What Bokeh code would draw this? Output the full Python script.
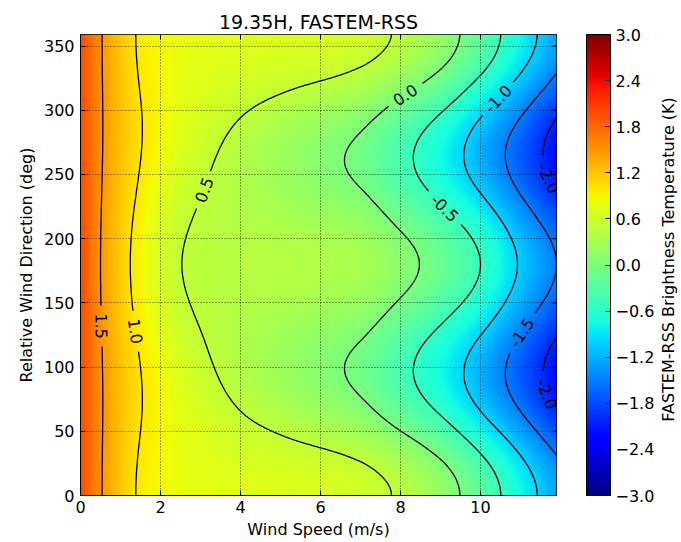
import numpy as np
import contourpy
from bokeh.plotting import figure
from bokeh.layouts import row
from bokeh.models import (LinearColorMapper, ColorBar, FixedTicker,
                          CustomJSTickFormatter, Range1d)
from bokeh.core.properties import value
from bokeh.embed import file_html
from bokeh.resources import INLINE

# ---------------- data ----------------
title_text = "19.35H, FASTEM-RSS"
x_label = "Wind Speed (m/s)"
y_label = "Relative Wind Direction (deg)"
cbar_label = "FASTEM-RSS Brightness Temperature (K)"

wind_speed = [0.0, 0.5, 1.0, 1.5, 2.0, 2.5, 3.0, 4.0, 5.0, 6.0, 7.0, 8.0, 9.0, 10.0, 11.0, 11.9]
# brightness temperature along wind direction 0 deg, 90 deg and 180 deg
tb_dir_0 = [1.98, 1.53, 1.19, 0.96, 0.86, 0.80, 0.77, 0.73, 0.71, 0.69, 0.62, 0.455, 0.19, -0.24, -0.77, -1.27]
tb_dir_90 = [1.98, 1.54, 1.22, 1.01, 0.85, 0.70, 0.59, 0.41, 0.26, 0.10, -0.06, -0.38, -0.74, -1.19, -1.69, -2.18]
tb_dir_180 = [1.98, 1.50, 1.14, 0.87, 0.65, 0.505, 0.455, 0.43, 0.41, 0.38, 0.32, 0.11, -0.14, -0.50, -1.04, -1.50]
direction_max = 359

contour_levels = [-2.0, -1.5, -1.0, -0.5, 0.0, 0.5, 1.0, 1.5]
label_levels = [1.5, 1.0, 0.5, 0.0, -0.5, -1.0, -1.5, -2.0, -2.0]
label_dirs = [132, 128, 238, 312, 224, 309, 127, 247, 79]

x_ticks = [0, 2, 4, 6, 8, 10]
y_ticks = [0, 50, 100, 150, 200, 250, 300, 350]
cbar_ticks = [-3.0, -2.4, -1.8, -1.2, -0.6, 0.0, 0.6, 1.2, 1.8, 2.4, 3.0]
cbar_low, cbar_high = -3.0, 3.0

# ---------------- layout / style ----------------
W, H = 681, 542
W_LAB = 22                     # strip holding the colour-bar caption
W_MAIN = W - W_LAB
CAP_X = 668                    # caption centre, in canvas pixels
BL, BT, BB = 80, 34, 47
FW = 476
BR = W_MAIN - BL - FW
FH = H - BT - BB
FONT = "DejaVu Sans"
TICK_LEN = 5


def pchip(xk, yk, xq):
    xk = np.asarray(xk, float); yk = np.asarray(yk, float)
    h = np.diff(xk); dl = np.diff(yk) / h
    n = len(xk); d = np.zeros(n)
    for k in range(1, n - 1):
        if dl[k - 1] * dl[k] > 0:
            w1 = 2 * h[k] + h[k - 1]; w2 = h[k] + 2 * h[k - 1]
            d[k] = (w1 + w2) / (w1 / dl[k - 1] + w2 / dl[k])
    d[0] = dl[0]; d[-1] = dl[-1]
    i = np.clip(np.searchsorted(xk, xq) - 1, 0, n - 2)
    t = (xq - xk[i]) / h[i]
    h00 = 2 * t**3 - 3 * t**2 + 1; h10 = t**3 - 2 * t**2 + t
    h01 = -2 * t**3 + 3 * t**2; h11 = t**3 - t**2
    return h00 * yk[i] + h10 * h[i] * d[i] + h01 * yk[i + 1] + h11 * h[i] * d[i + 1]


def jet(f):
    r = np.interp(f, [0, 0.35, 0.66, 0.89, 1], [0, 0, 1, 1, 0.5])
    g = np.interp(f, [0, 0.125, 0.375, 0.64, 0.91, 1], [0, 0, 1, 1, 0, 0])
    b = np.interp(f, [0, 0.11, 0.34, 0.65, 1], [0.5, 1, 1, 0, 0])
    return "#%02x%02x%02x" % (int(round(r * 255)), int(round(g * 255)), int(round(b * 255)))


palette = [jet(i / 255) for i in range(256)]

# field on a fine grid: harmonic expansion in relative wind direction
xs = np.linspace(wind_speed[0], wind_speed[-1], 477)
ys = np.arange(0, direction_max + 1, 1.0)
t0 = pchip(wind_speed, tb_dir_0, xs)
t90 = pchip(wind_speed, tb_dir_90, xs)
t180 = pchip(wind_speed, tb_dir_180, xs)
A = (t0 + t180) / 4 + t90 / 2
B = (t0 - t180) / 2
C = (t0 + t180) / 4 - t90 / 2
phi = np.deg2rad(ys)[:, None]
Z = A[None, :] + B[None, :] * np.cos(phi) + C[None, :] * np.cos(2 * phi)

px_x = FW / (xs[-1] - xs[0])
px_y = FH / (ys[-1] - ys[0])
cw = {c: 0.636 for c in "0123456789"}
cw.update({".": 0.318, "-": 0.361})

gen = contourpy.contour_generator(xs, ys, Z, line_type=contourpy.LineType.Separate)
seg_x, seg_y = [], []
lab_x, lab_y, lab_a, lab_t = [], [], [], []
for lev in contour_levels:
    lines = [ln for ln in gen.lines(lev) if len(ln) > 1]
    centers = []
    for l, d in zip(label_levels, label_dirs):
        if l != lev:
            continue
        best = None
        for ln in lines:
            i = int(np.argmin(np.abs(ln[:, 1] - d)))
            err = abs(ln[i, 1] - d)
            if best is None or err < best[0]:
                best = (err, ln, i)
        _, ln, i = best
        cx, cy = ln[i]
        j0 = max(i - 4, 0); j1 = min(i + 4, len(ln) - 1)
        dx = (ln[j1, 0] - ln[j0, 0]) * px_x
        dy = (ln[j1, 1] - ln[j0, 1]) * px_y
        ang = np.arctan2(dy, dx)
        if ang > np.pi / 2:
            ang -= np.pi
        if ang <= -np.pi / 2:
            ang += np.pi
        txt = f"{lev:.1f}"
        w = sum(cw[c] for c in txt) * 16
        centers.append((cx, cy, w / 2 + 7))
        lab_x.append(cx); lab_y.append(cy); lab_a.append(ang); lab_t.append(txt)
    for ln in lines:
        keep = np.ones(len(ln), bool)
        for cx, cy, r in centers:
            keep &= np.hypot((ln[:, 0] - cx) * px_x, (ln[:, 1] - cy) * px_y) > r
        idx = np.where(keep)[0]
        if len(idx) < 2:
            continue
        for run in np.split(idx, np.where(np.diff(idx) > 1)[0] + 1):
            if len(run) >= 2:
                seg_x.append(ln[run, 0].tolist()); seg_y.append(ln[run, 1].tolist())

# ---------------- main figure ----------------
p = figure(width=W_MAIN, height=H, output_backend="svg", toolbar_location=None,
           x_range=Range1d(xs[0], xs[-1]), y_range=Range1d(ys[0], ys[-1]),
           min_border_left=BL, min_border_right=BR, min_border_top=BT, min_border_bottom=BB,
           title=title_text)
p.title.align = "center"
p.title.text_font = FONT
p.title.text_font_size = "19px"
p.title.text_font_style = "normal"
p.title.text_color = "black"
p.title.standoff = 3

mapper = LinearColorMapper(palette=palette, low=cbar_low, high=cbar_high)
p.image(image=[Z], x=xs[0], y=ys[0], dw=xs[-1] - xs[0], dh=ys[-1] - ys[0],
        color_mapper=mapper, level="image")
p.multi_line(xs=seg_x, ys=seg_y, line_color="black", line_width=1.3)
p.text(x=lab_x, y=lab_y, text=lab_t, angle=lab_a, text_align="center",
       text_baseline="middle", text_font=value(FONT), text_font_size="16px",
       text_color="black")

# inward ticks on the top and right spines (matplotlib classic style)
p.segment(x0=x_ticks, x1=x_ticks, y0=[ys[-1]] * len(x_ticks),
          y1=[ys[-1] - TICK_LEN / px_y] * len(x_ticks), line_color="black", line_width=1)
p.segment(x0=[xs[-1]] * len(y_ticks), x1=[xs[-1] - TICK_LEN / px_x] * len(y_ticks),
          y0=y_ticks, y1=y_ticks, line_color="black", line_width=1)

p.xaxis.ticker = FixedTicker(ticks=x_ticks)
p.yaxis.ticker = FixedTicker(ticks=y_ticks)
for ax, lab in ((p.xaxis[0], x_label), (p.yaxis[0], y_label)):
    ax.axis_label = lab
    ax.axis_label_text_font = FONT
    ax.axis_label_text_font_size = "16px"
    ax.axis_label_text_font_style = "normal"
    ax.axis_label_text_color = "black"
    ax.major_label_text_font = FONT
    ax.major_label_text_font_size = "16px"
    ax.major_label_text_color = "black"
    ax.major_tick_in = TICK_LEN
    ax.major_tick_out = 0
    ax.minor_tick_line_color = None
    ax.major_tick_line_color = "black"
    ax.axis_line_color = "black"
p.xaxis.major_label_standoff = 5
p.xaxis.axis_label_standoff = 4
p.yaxis.major_label_standoff = 6
p.yaxis.axis_label_standoff = 5

p.grid.grid_line_color = "black"
p.grid.grid_line_alpha = 0.75
p.grid.grid_line_dash = "1 2"
p.grid.grid_line_width = 1
p.outline_line_color = "black"
p.outline_line_width = 1
p.outline_line_alpha = 1

cbar = ColorBar(color_mapper=mapper, ticker=FixedTicker(ticks=cbar_ticks),
                formatter=CustomJSTickFormatter(code="return tick.toFixed(1).replace('-', '\u2212')"),
                width=24, height=FH, padding=0, margin=0, location=(30, 0),
                label_standoff=5, major_label_text_font=FONT, major_label_text_font_size="16px",
                major_label_text_color="black", major_tick_in=5, major_tick_out=0,
                major_tick_line_color="black", minor_tick_line_color=None,
                bar_line_color="black", background_fill_color=None, border_line_color=None)
p.add_layout(cbar, "right")

# ---------------- caption strip for the colour bar ----------------
q = figure(width=W_LAB, height=H, output_backend="svg", toolbar_location=None,
           x_range=Range1d(-(CAP_X - W_MAIN), W - CAP_X), y_range=Range1d(-H / 2, H / 2),
           min_border=0, x_axis_location=None, y_axis_location=None)
q.outline_line_color = None
q.grid.visible = False
q.text(x=[0], y=[(BB - BT) / 2], text=[cbar_label], angle=np.pi / 2, text_align="center",
       text_baseline="middle", text_font=value(FONT), text_font_size="16px", text_color="black")

layout = row(p, q, spacing=0)
open("out.html", "w").write(file_html(layout, INLINE))
